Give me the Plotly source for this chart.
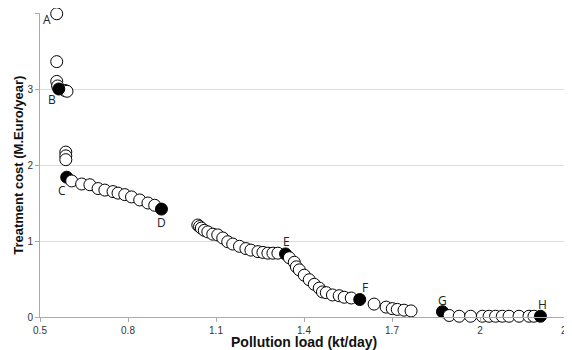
import plotly.graph_objects as go

# Pollution load (kt/day) vs treatment cost (M.Euro/year)
load = [0.557, 0.557, 0.557, 0.560, 0.585, 0.592, 0.564,
        0.588, 0.588, 0.588,
        0.591, 0.608, 0.642, 0.670, 0.698, 0.721, 0.749, 0.766, 0.789, 0.812,
        0.840, 0.868, 0.891, 0.914,
        1.038, 1.044, 1.050, 1.060, 1.072, 1.089, 1.106, 1.123, 1.140, 1.157,
        1.180, 1.202, 1.219, 1.243, 1.260, 1.277, 1.294, 1.311, 1.337,
        1.350, 1.367, 1.374, 1.384, 1.401, 1.418, 1.435, 1.452, 1.463, 1.476,
        1.497, 1.520, 1.537, 1.561, 1.590,
        1.639, 1.680, 1.701, 1.718, 1.741, 1.765,
        1.872, 1.895, 1.929, 1.968, 2.008, 2.031, 2.053, 2.076, 2.099, 2.133,
        2.167, 2.184, 2.206]
cost = [3.99, 3.36, 3.10, 3.04, 2.98, 2.97, 3.00,
        2.17, 2.12, 2.07,
        1.84, 1.79, 1.75, 1.74, 1.69, 1.67, 1.65, 1.63, 1.61, 1.58,
        1.54, 1.50, 1.47, 1.42,
        1.21, 1.19, 1.17, 1.14, 1.12, 1.09, 1.08, 1.04, 0.99, 0.96,
        0.93, 0.90, 0.88, 0.86, 0.85, 0.84, 0.84, 0.84, 0.83,
        0.78, 0.72, 0.66, 0.62, 0.55, 0.49, 0.43, 0.38, 0.33, 0.32,
        0.29, 0.28, 0.26, 0.25, 0.23,
        0.17, 0.13, 0.11, 0.10, 0.09, 0.08,
        0.07, 0.02, 0.01, 0.01, 0.01, 0.01, 0.01, 0.01, 0.01, 0.01,
        0.01, 0.01, 0.01]
# 1 = highlighted (filled) solution
filled = [0, 0, 0, 0, 0, 0, 1,
          0, 0, 0,
          1, 0, 0, 0, 0, 0, 0, 0, 0, 0,
          0, 0, 0, 1,
          0, 0, 0, 0, 0, 0, 0, 0, 0, 0,
          0, 0, 0, 0, 0, 0, 0, 0, 1,
          0, 0, 0, 0, 0, 0, 0, 0, 0, 0,
          0, 0, 0, 0, 1,
          0, 0, 0, 0, 0, 0,
          1, 0, 0, 0, 0, 0, 0, 0, 0, 0,
          0, 0, 1]

label_text = ["A", "B", "C", "D", "E", "F", "G", "H"]
label_x = [0.524, 0.541, 0.575, 0.915, 1.340, 1.608, 1.871, 2.214]
label_y = [3.91, 2.86, 1.67, 1.25, 0.99, 0.39, 0.22, 0.16]

x_ticks = [0.5, 0.8, 1.1, 1.4, 1.7, 2.0, 2.3]
x_tick_text = ["0.5", "0.8", "1.1", "1.4", "1.7", "2", "2.3"]
y_ticks = [0, 1, 2, 3, 4]

x_title = "Pollution load (kt/day)"
y_title = "Treatment cost (M.Euro/year)"

colors = ["black" if f else "white" for f in filled]

fig = go.Figure()
fig.add_trace(go.Scatter(
    x=load, y=cost, mode="markers", cliponaxis=False,
    marker=dict(size=12, color=colors, line=dict(color="black", width=1)),
    showlegend=False,
))

for t, lx, ly in zip(label_text, label_x, label_y):
    fig.add_annotation(x=lx, y=ly, text=t, showarrow=False, xref="x", yref="y",
                       font=dict(family="Open Sans, DejaVu Sans, sans-serif", size=12, color="#222"))

fig.add_annotation(x=0.5, y=-0.082, xref="paper", yref="paper", xanchor="center", yanchor="middle",
                   text="<b>" + x_title + "</b>", showarrow=False,
                   font=dict(family="Liberation Sans, Arial, sans-serif", size=14, color="#111"))
fig.add_annotation(x=-0.042, y=0.5, xref="paper", yref="paper", xanchor="center", yanchor="middle",
                   text="<b>" + y_title + "</b>", showarrow=False, textangle=-90,
                   font=dict(family="Liberation Sans, Arial, sans-serif", size=13, color="#111"))

fig.update_layout(
    width=564, height=342,
    margin=dict(l=32, r=4, t=5, b=33, autoexpand=False),
    paper_bgcolor="white", plot_bgcolor="white",
    font=dict(family="Liberation Sans, Arial, sans-serif", color="#333"),
    xaxis=dict(
        range=[0.5, 2.3], tickvals=x_ticks, ticktext=x_tick_text, automargin=False,
        ticklabeloverflow="allow",
        showgrid=False, zeroline=False, showline=True, linecolor="#aaaaaa", linewidth=1,
        ticks="outside", ticklen=4, tickcolor="#aaaaaa", tickfont=dict(size=10, color="#333"),
    ),
    yaxis=dict(
        range=[0, 4], tickvals=y_ticks, automargin=False,
        showgrid=True, gridcolor="#dcdcdc", gridwidth=1, zeroline=False,
        showline=True, linecolor="#aaaaaa", linewidth=1, mirror=True,
        ticks="outside", ticklen=4, tickcolor="#aaaaaa", tickfont=dict(size=10, color="#333"),
    ),
)

fig.write_html("out.html")
